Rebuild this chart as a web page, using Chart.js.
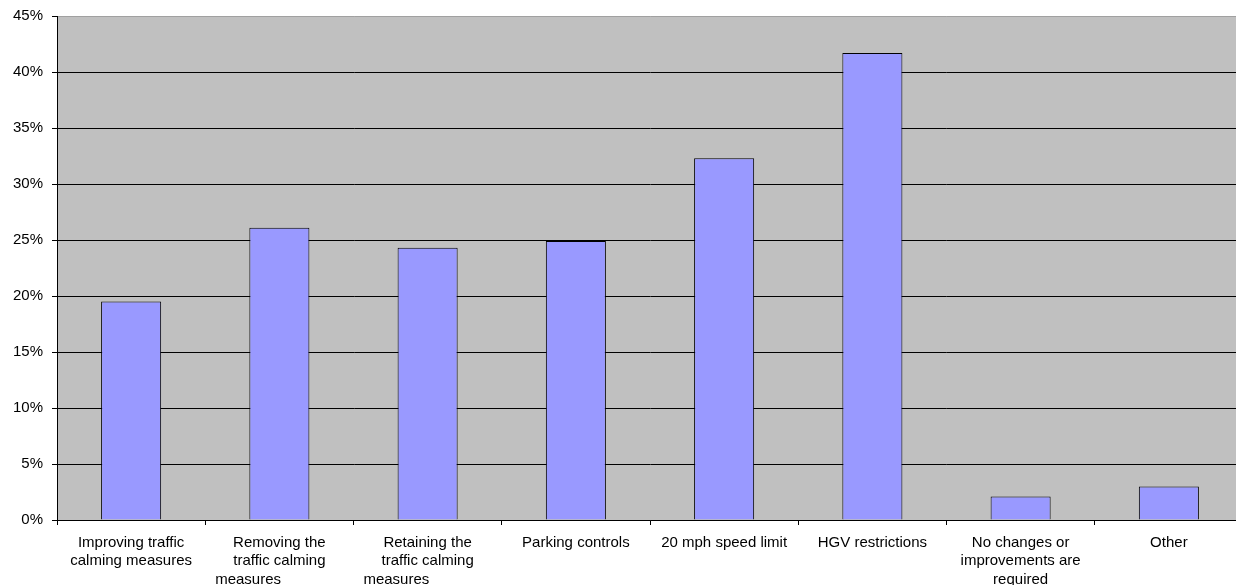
<!DOCTYPE html>
<html>
<head>
<meta charset="utf-8">
<script src="https://cdn.jsdelivr.net/npm/chart.js@4"></script>
<style>
  html, body { margin: 0; padding: 0; background: #fff; overflow: hidden; }
  canvas { display: block; }
</style>
</head>
<body>
<canvas id="chart" width="1243" height="585"></canvas>
<script>
const categories = [
  ["Improving traffic", "calming measures"],
  ["Removing the", "traffic calming", "measures               "],
  ["Retaining the", "traffic calming", "measures               "],
  "Parking controls",
  "20 mph speed limit",
  "HGV restrictions",
  ["No changes or", "improvements are", "required"],
  "Other",
];
const percentages = [19.5, 26.1, 24.3, 24.9, 32.3, 41.7, 2.1, 3.0];

const color = {
  Plot: "#C0C0C0",
  Bar: "#9999FF",
  Black: "#000000",
};

// gray plot background
const plotBackground = {
  id: "plotBackground",
  beforeDraw(chart) {
    const { ctx, chartArea } = chart;
    ctx.save();
    ctx.fillStyle = color.Plot;
    ctx.fillRect(chartArea.left, chartArea.top, chartArea.right - chartArea.left, chartArea.bottom - chartArea.top);
    ctx.restore();
  },
};

const barConfig = {
  type: "bar",
  data: {
    labels: categories,
    datasets: [
      {
        data: percentages,
        backgroundColor: color.Bar,
        borderColor: color.Black,
        borderWidth: 1,
        categoryPercentage: 1,
        barPercentage: 0.405,
      },
    ],
  },
  options: {
    responsive: false,
    animation: false,
    layout: { padding: { top: 16, left: 0, right: 0, bottom: 0 } },
    plugins: {
      legend: { display: false },
      tooltip: { enabled: false },
    },
    scales: {
      x: {
        offset: true,
        grid: {
          offset: true,
          drawOnChartArea: false,
          drawTicks: true,
          tickLength: 5,
          color: color.Black,
        },
        border: { color: color.Black, width: 1 },
        ticks: {
          autoSkip: false,
          maxRotation: 0,
          minRotation: 0,
          padding: 8,
          color: color.Black,
          font: { family: "'Liberation Sans', Arial, sans-serif", size: 15, lineHeight: 1.25 },
        },
        afterFit: (axis) => {
          axis.height = 65;
          axis.paddingLeft = 0;
          axis.paddingRight = 0;
        },
      },
      y: {
        min: 0,
        max: 45,
        grid: {
          color: (c) => (c.tick && c.tick.value === 45 ? "#A0A0A0" : color.Black),
          tickColor: color.Black,
          tickLength: 5,
        },
        border: { color: color.Black, width: 1 },
        ticks: {
          stepSize: 5,
          padding: 9,
          color: color.Black,
          font: { family: "'Liberation Sans', Arial, sans-serif", size: 15 },
          callback: (v) => v + "%",
        },
        afterFit: (axis) => {
          axis.width = 57;
          axis.paddingTop = 0;
          axis.paddingBottom = 0;
        },
      },
    },
  },
  plugins: [plotBackground],
};

const myChart = new Chart(document.getElementById("chart"), barConfig);
</script>
</body>
</html>
